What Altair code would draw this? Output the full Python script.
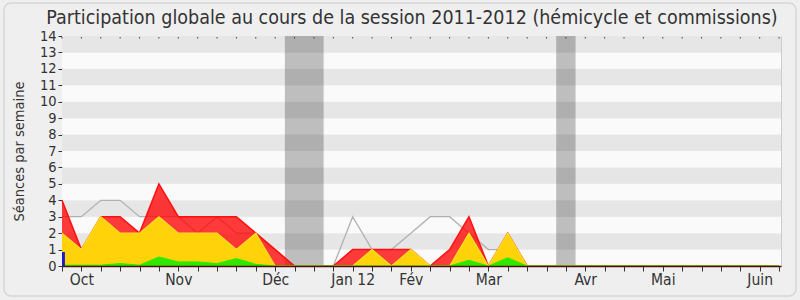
import altair as alt
import pandas as pd

# ---- data ----
weeks = list(range(38))
presence = [4, 1, 3, 3, 2, 5, 3, 3, 3, 3, 2, 1, 0, 0, 0, 1, 1, 1, 1, 0, 1, 3, 0, 2, 0] + [0] * 13
participation = [2, 1, 3, 2, 2, 3, 2, 2, 2, 1, 2, 0, 0, 0, 0, 0, 1, 0, 1, 0, 0, 2, 0, 2, 0] + [0] * 13
interventions = [0.05, 0.05, 0.05, 0.15, 0.05, 0.55, 0.25, 0.25, 0.15, 0.45, 0.1, 0, 0, 0, 0,
                 0, 0, 0, 0, 0, 0, 0.35, 0, 0.5, 0] + [0] * 13
mediane = [3, 3, 4, 4, 3, 3, 3, 2, 3, 2, 2, 1, 0, 0, 0, 3, 1, 1, 2, 3, 3, 2, 1, 1, 0] + [0] * 13
questions_week = [0]
questions_val = [0.85]

vac_start = [11.5, 25.5]
vac_end = [13.5, 26.5]

month_weeks = [1, 6, 11, 15, 18, 22, 27, 31, 36]
month_names = ["Oct", "Nov", "Déc", "Jan 12", "Fév", "Mar", "Avr", "Mai", "Juin"]

y_ticks = list(range(15))

TITLE = "Participation globale au cours de la session 2011-2012 (hémicycle et commissions)"
FONT = "DejaVu Sans Condensed, DejaVu Sans"
W, H = 719, 230

# ---- tables ----
df = pd.DataFrame({"week": weeks, "presence": presence, "participation": participation,
                   "interventions": interventions, "mediane": mediane})
bands = pd.DataFrame({"lo": y_ticks[:-1], "hi": y_ticks[1:],
                      "shade": ["clair" if k % 2 == 0 else "fonce" for k in y_ticks[:-1]]})
vac = pd.DataFrame({"start": vac_start, "end": vac_end})
quest = pd.DataFrame({"week": questions_week, "val": questions_val,
                      "end": [w + 0.15 for w in questions_week]})
ticks_df = pd.DataFrame({"week": weeks})
title_df = pd.DataFrame({"title": [TITLE]})

label_expr = " : ".join(f"datum.value == {w} ? '{n}'" for w, n in zip(month_weeks, month_names)) + " : ''"

xscale = alt.Scale(domain=[0, 37.1], nice=False, zero=False)
yscale = alt.Scale(domain=[0, 14], nice=False)
xaxis = alt.Axis(values=weeks, labelExpr=label_expr, title=None, grid=False, tickSize=5,
                 labelFontSize=15.5, labelFont=FONT, labelColor="#333333", labelPadding=1,
                 domainColor="#4a1010", domainWidth=1.5, tickColor="#333333", labelFlush=False,
                 labelOverlap=False, zindex=1)
yaxis = alt.Axis(values=y_ticks, title="Séances par semaine", grid=False, tickSize=4,
                 labelFontSize=14.5, labelFont=FONT, labelColor="#333333", labelPadding=2,
                 domainColor="#333333", tickColor="#333333", titleFont=FONT, titleFontSize=14.5,
                 titleFontWeight="normal", titleColor="#333333", titlePadding=13)


def X(f):
    return alt.X(f, type="quantitative", scale=xscale, axis=xaxis)


def Y(f):
    return alt.Y(f, type="quantitative", scale=yscale, axis=yaxis)


stripes = alt.Chart(bands).mark_rect().encode(
    x=alt.value(0), x2=alt.value(W), y=Y("lo"), y2="hi",
    color=alt.Color("shade:N", scale=alt.Scale(domain=["clair", "fonce"], range=["#fafafa", "#e6e6e6"]),
                    legend=None))

vacation = alt.Chart(vac).mark_rect(color="black", opacity=0.24).encode(
    x=X("start"), x2="end", y=alt.value(0), y2=alt.value(H))

top_ticks = alt.Chart(ticks_df).mark_rule(color="#444444", strokeWidth=1).encode(
    x=X("week"), y=alt.value(1), y2=alt.value(2.5))

median_line = alt.Chart(df).mark_line(color="#b0b0b0", strokeWidth=1.3).encode(
    x=X("week"), y=Y("mediane"))

red_area = alt.Chart(df).mark_area(color="#ff0000", opacity=0.77, line={"color": "#ff1010", "strokeWidth": 1.5}).encode(
    x=X("week"), y=Y("presence"))

yellow_area = alt.Chart(df).mark_area(color="#ffd20a", opacity=1, line={"color": "#ffe020", "strokeWidth": 1.2}).encode(
    x=X("week"), y=Y("participation"))

green_area = alt.Chart(df).mark_area(color="#33e600", opacity=1, line={"color": "#22ee00", "strokeWidth": 1}).encode(
    x=X("week"), y=Y("interventions"))

blue_bar = alt.Chart(quest).mark_rect(color="#1a1acc").encode(
    x=X("week"), x2="end", y=Y("val"), y2=alt.value(H))

frame = alt.Chart(ticks_df.head(1)).mark_rect(filled=False, stroke="#d6d6d6", strokeWidth=1.5, cornerRadius=7).encode(
    x=alt.value(-58), x2=alt.value(734), y=alt.value(-33), y2=alt.value(260))

title = alt.Chart(title_df).mark_text(fontSize=19.5, font=FONT, color="#333333", align="center",
                                      baseline="alphabetic").encode(
    text="title:N", x=alt.value(350), y=alt.value(-12))

chart = alt.layer(
    frame, stripes, vacation, top_ticks, median_line, red_area, yellow_area, green_area, blue_bar, title
).properties(
    width=W, height=H,
    autosize=alt.AutoSizeParams(type="none"),
    padding={"left": 62, "top": 36, "right": 19, "bottom": 34},
).configure(background="#efefef").configure_view(stroke="#cccccc", strokeWidth=1)

chart.save("out.html", embed_options={"renderer": "svg", "actions": False})
